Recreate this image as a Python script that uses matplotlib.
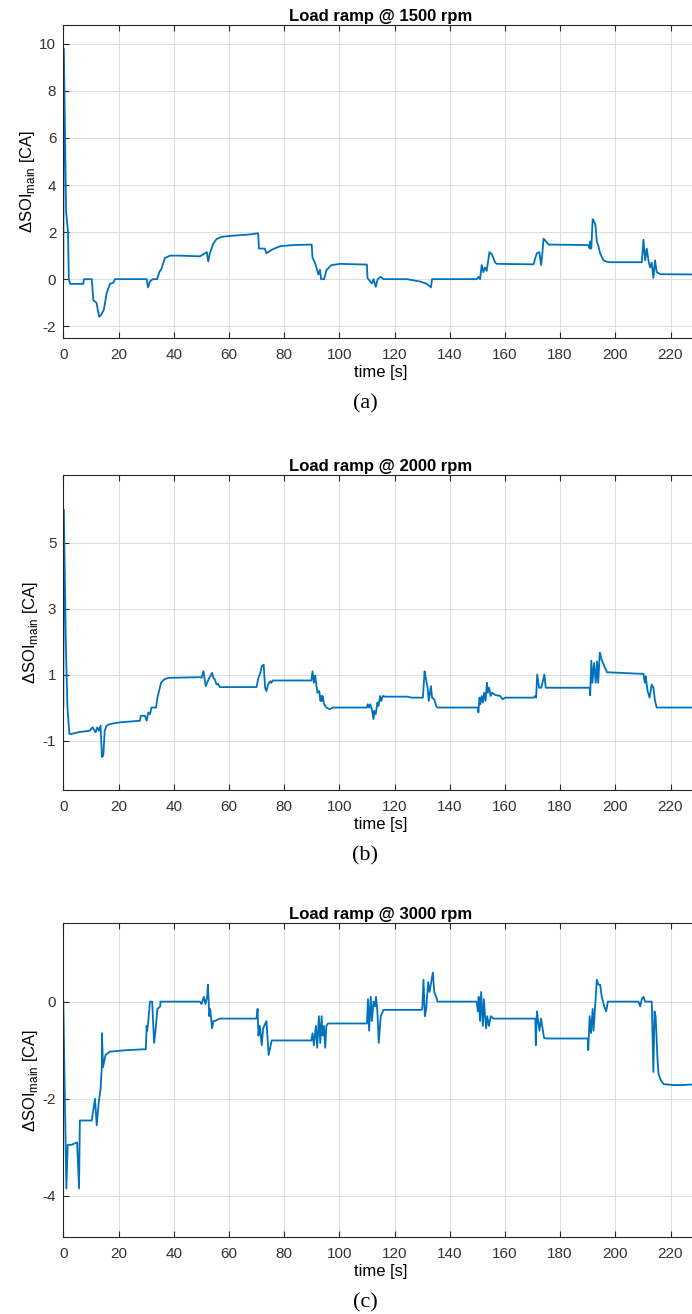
import matplotlib
matplotlib.use('Agg')
import matplotlib.pyplot as plt
import numpy as np

plt.rcParams.update({
    'font.family': ['Liberation Sans', 'DejaVu Sans'],
    'font.size': 11,
    'axes.unicode_minus': False,
    'axes.linewidth': 0.8,
    'axes.edgecolor': '#262626',
    'xtick.color': '#262626',
    'ytick.color': '#262626',
    'xtick.labelcolor': '#333333',
    'ytick.labelcolor': '#333333',
    'xtick.direction': 'in',
    'ytick.direction': 'in',
    'xtick.top': True,
    'ytick.right': True,
    'xtick.major.size': 4,
    'ytick.major.size': 4,
})

LINE = '#0072BD'

# (a) 1500 rpm
t_a = [0, 0.2, 1.0, 1.7, 2.0, 2.5, 7.2, 7.5, 10.3, 10.9, 12, 13, 13.8, 14.7, 15.7, 16.3, 16.9, 18.1, 18.7,
       30.2, 30.7, 31.4, 32.4, 34.0, 34.8, 35.6, 36.8, 38.7, 42, 49.5, 51.3, 52.0, 52.5, 53.1, 54.3, 55.5,
       57.4, 61.6, 67.6, 70.6, 70.9, 73.0, 73.6, 75.5, 78.5, 83.3, 90.0, 90.3, 91.2, 92.4, 93.0, 93.4,
       94.5, 95.4, 97.2, 100.3, 110.0, 110.2, 111.8, 112.4, 113.2, 113.9, 115.0, 116.0, 124.5, 129.3,
       131.7, 133.2, 133.6, 149.8, 150.4, 151.0, 151.6, 152.2, 152.8, 153.4, 154.4, 155.3, 156.5, 157.1,
       170.4, 171.0, 171.6, 172.5, 173.1, 173.5, 174.0, 174.6, 175.8, 190.3, 190.7, 190.9, 191.3, 191.8,
       192.3, 192.8, 193.3, 193.9, 194.5, 195.7, 196.9, 197.9, 209.6, 210.2, 210.8, 211.4, 212.0, 212.6,
       213.2, 213.8, 214.4, 215.0, 215.7, 216.5, 230.0]
v_a = [0, 9.8, 2.9, 2.0, 0, -0.2, -0.2, 0, 0, -0.9, -1.0, -1.6, -1.5, -1.3, -0.6, -0.4, -0.2, -0.15, 0,
       0, -0.35, -0.1, 0, 0, 0.3, 0.45, 0.9, 1.0, 1.0, 0.97, 1.1, 1.15, 0.75, 1.1, 1.5, 1.7,
       1.8, 1.85, 1.9, 1.95, 1.3, 1.3, 1.1, 1.25, 1.4, 1.45, 1.47, 0.9, 0.7, 0.2, 0.4, 0,
       0, 0.4, 0.6, 0.65, 0.62, 0.05, -0.18, 0.0, -0.33, 0.0, 0.1, 0.0, 0.0, -0.1,
       -0.2, -0.35, 0.0, 0.0, 0.1, 0.0, 0.6, 0.3, 0.5, 0.35, 1.15, 1.05, 0.7, 0.65,
       0.63, 0.9, 1.1, 1.15, 0.6, 1.0, 1.72, 1.65, 1.47, 1.45, 1.3, 1.6, 1.3, 2.55,
       2.45, 2.3, 1.6, 1.4, 1.1, 0.8, 0.74, 0.72, 0.72, 1.68, 0.8, 1.3, 0.8, 0.5,
       0.7, 0.05, 0.8, 0.3, 0.25, 0.21, 0.2]

# (b) 2000 rpm
t_b = [0, 0.2, 0.9, 1.5, 2.2, 3.0, 5.4, 9.6, 10.6, 11.7, 12.3, 12.9, 13.5, 14.0, 14.5, 15.0, 15.7, 16.9,
       20.5, 27.8, 28.1, 29.6, 30.2, 30.8, 31.4, 32.0, 33.6, 34.1, 34.7, 35.4, 36.5, 38.0, 49.5, 50.1,
       50.8, 51.6, 52.6, 53.9, 54.4, 54.9, 55.5, 56.1, 56.7, 70.0, 70.7, 71.4, 71.9, 72.6, 73.1, 73.6,
       74.2, 75.0, 75.4, 75.9, 89.9, 90.3, 90.8, 91.3, 91.5, 92.1, 92.7, 93.2, 93.4, 93.7, 93.9, 94.5,
       95.3, 96.5, 97.7, 110.0, 110.3, 110.8, 111.2, 111.8, 112.4, 112.7, 113.2, 113.8, 114.2, 114.8,
       115.2, 115.8, 116.6, 124.5, 126.3, 130.3, 130.9, 131.2, 132.0, 132.4, 133.2, 133.6, 134.4, 135.1,
       135.6, 150.2, 150.4, 150.8, 151.1, 151.6, 152.0, 152.5, 153.0, 153.5, 153.8, 154.3, 154.8, 155.4,
       156.5, 158.3, 159.2, 160.1, 170.4, 171.0, 171.3, 171.7, 172.4, 173.2, 174.3, 174.8, 175.2, 190.7,
       190.9, 191.3, 191.7, 192.3, 192.9, 193.4, 193.8, 194.4, 195.1, 196.0, 197.0, 210.2, 210.7, 211.0,
       211.7, 212.4, 213.2, 213.8, 214.4, 215.0, 230.0]
v_b = [0, 6.0, 2.0, 0, -0.8, -0.8, -0.75, -0.7, -0.6, -0.75, -0.6, -0.7, -0.55, -1.5, -1.45, -0.7, -0.55, -0.5,
       -0.45, -0.4, -0.25, -0.25, -0.4, -0.15, -0.2, 0, 0, 0.3, 0.5, 0.75, 0.85, 0.9, 0.92, 0.9,
       1.1, 0.65, 0.85, 1.05, 0.9, 0.85, 0.7, 0.72, 0.62, 0.62, 0.9, 1.05, 1.25, 1.3, 0.6, 0.5,
       0.7, 0.8, 0.75, 0.82, 0.82, 1.1, 0.75, 0.97, 0.8, 0.45, 0.5, 0.2, 0.35, 0.2, 0.35, 0.1,
       0, -0.05, 0, 0, 0.1, 0, 0.1, -0.05, -0.35, -0.1, -0.2, 0.15, 0.05, 0.35,
       0.2, 0.35, 0.33, 0.33, 0.3, 0.3, 1.1, 0.95, 0.6, 0.2, 0.65, 0.3, 0.25, 0.05,
       0, 0, -0.15, 0.3, 0.1, 0.35, 0.15, 0.45, 0.2, 0.75, 0.45, 0.6, 0.35, 0.45,
       0.38, 0.35, 0.25, 0.3, 0.3, 0.35, 0.3, 1.0, 0.6, 0.6, 1.0, 0.6, 0.6, 0.6,
       0.37, 1.42, 0.75, 1.35, 0.75, 1.4, 0.75, 1.67, 1.45, 1.25, 1.07, 1.02, 0.75, 0.95,
       0.5, 0.3, 0.7, 0.6, 0.2, 0, 0]

# (c) 3000 rpm
t_c = [0, 1.1, 1.6, 3.0, 5.0, 5.7, 6.0, 10.3, 11.5, 12.1, 12.8, 13.5, 14.0, 14.0, 14.4, 15.3, 16.9, 23.0,
       29.9, 30.2, 30.4, 30.8, 31.4, 32.2, 32.9, 33.4, 34.1, 35.1, 35.2, 49.5, 50.1, 50.9, 51.5, 52.1,
       52.4, 52.9, 53.2, 53.9, 54.4, 55.0, 56.5, 70.0, 70.4, 70.7, 71.2, 71.9, 72.4, 73.6, 74.4, 75.5,
       76.1, 89.9, 90.3, 90.8, 91.5, 92.0, 92.6, 93.1, 93.6, 93.9, 94.4, 94.9, 95.3, 95.9, 96.5, 110.0,
       110.4, 110.8, 111.4, 111.8, 112.4, 112.9, 113.3, 113.8, 114.3, 115.0, 116.0, 129.9, 130.1, 130.5,
       131.0, 131.5, 132.2, 132.7, 133.9, 134.4, 135.1, 135.6, 149.8, 150.2, 150.5, 151.0, 151.4, 152.0,
       152.4, 152.8, 153.2, 153.6, 154.2, 154.9, 155.9, 171.0, 171.2, 171.6, 172.5, 173.1, 174.2, 175.2,
       190.0, 190.2, 190.7, 191.2, 191.8, 192.1, 192.7, 193.3, 193.9, 194.5, 195.1, 196.0, 196.7, 197.3,
       208.4, 209.0, 209.6, 210.2, 210.8, 213.2, 213.8, 214.2, 214.6, 215.3, 215.7, 216.3, 217.5, 221.1,
       224.1, 230.0]
v_c = [0, -3.85, -2.95, -2.95, -2.9, -3.85, -2.45, -2.45, -2.0, -2.55, -2.1, -1.8, -1.3, -0.65, -1.35, -1.1, -1.03, -1.0,
       -0.98, -0.5, -0.6, -0.4, 0, 0, -0.85, -0.6, -0.15, -0.1, 0, 0, -0.05, 0.1, -0.05, 0.1,
       0.35, -0.3, -0.15, -0.55, -0.4, -0.4, -0.35, -0.35, -0.15, -0.7, -0.5, -0.9, -0.55, -0.4, -1.1, -0.8,
       -0.8, -0.8, -0.65, -0.9, -0.5, -0.95, -0.3, -0.85, -0.3, -0.7, -0.5, -0.95, -0.5, -0.45, -0.45, -0.45,
       0.05, -0.6, 0.1, -0.4, 0.0, -0.1, 0.1, -0.2, -0.85, -0.3, -0.17, -0.17, -0.1, 0.45,
       -0.3, -0.15, 0.4, 0.2, 0.6, 0.2, 0.1, 0, 0, -0.2, 0.1, -0.4, 0.2, -0.5,
       0.05, -0.3, -0.55, -0.3, -0.5, -0.3, -0.35, -0.35, -0.9, -0.2, -0.6, -0.35, -0.75, -0.76,
       -0.76, -1.0, -0.3, -0.65, -0.15, -0.6, -0.1, 0.45, 0.35, 0.35, 0.1, -0.1, -0.2, 0,
       0, -0.1, 0.05, 0.1, 0, 0, -1.45, -0.2, -0.3, -1.2, -1.5, -1.6, -1.7, -1.72,
       -1.72, -1.7]

titles = ['Load ramp @ 1500 rpm', 'Load ramp @ 2000 rpm', 'Load ramp @ 3000 rpm']
captions = ['(a)', '(b)', '(c)']
ylims = [(-2.5, 10.8), (-2.5, 7.05), (-4.85, 1.62)]
yticks = [[-2, 0, 2, 4, 6, 8, 10], [-1, 1, 3, 5], [-4, -2, 0]]
xticks = list(range(0, 221, 20))

fig = plt.figure(figsize=(6.92, 13.14), dpi=100)
H = 1314.0
W = 692.0
# axes pixel boxes: top, bottom
boxes = [(25, 338), (475, 790), (923, 1237)]
left = 63.3 / W
width = 230 * 2.76 / W

for i, (t, v) in enumerate([(t_a, v_a), (t_b, v_b), (t_c, v_c)]):
    top, bot = boxes[i]
    ax = fig.add_axes([left, 1 - bot / H, width, (bot - top) / H])
    ax.plot(t, v, color=LINE, lw=1.3)
    ax.set_xlim(0, 230)
    ax.set_ylim(*ylims[i])
    ax.set_xticks(xticks)
    ax.set_yticks(yticks[i])
    ax.grid(True, color='#dcdcdc', lw=0.7)
    ax.set_axisbelow(True)
    ax.set_title(titles[i], fontsize=12, fontweight='bold', pad=3)
    ax.set_xlabel('time [s]', fontsize=12, labelpad=2)
    ax.set_ylabel(r'ΔSOI$_{\mathregular{main}}$ [CA]', fontsize=12, labelpad=2)
    ax.tick_params(axis='x', labelsize=11, pad=7.5)
    ax.tick_params(axis='y', labelsize=11, pad=5)
    fig.text(365 / W, 1 - (bot + 66) / H, captions[i], ha='center', va='center',
             fontsize=16, family=['Liberation Serif', 'DejaVu Serif'])

fig.savefig('out.png', dpi=100)
print('OK')
